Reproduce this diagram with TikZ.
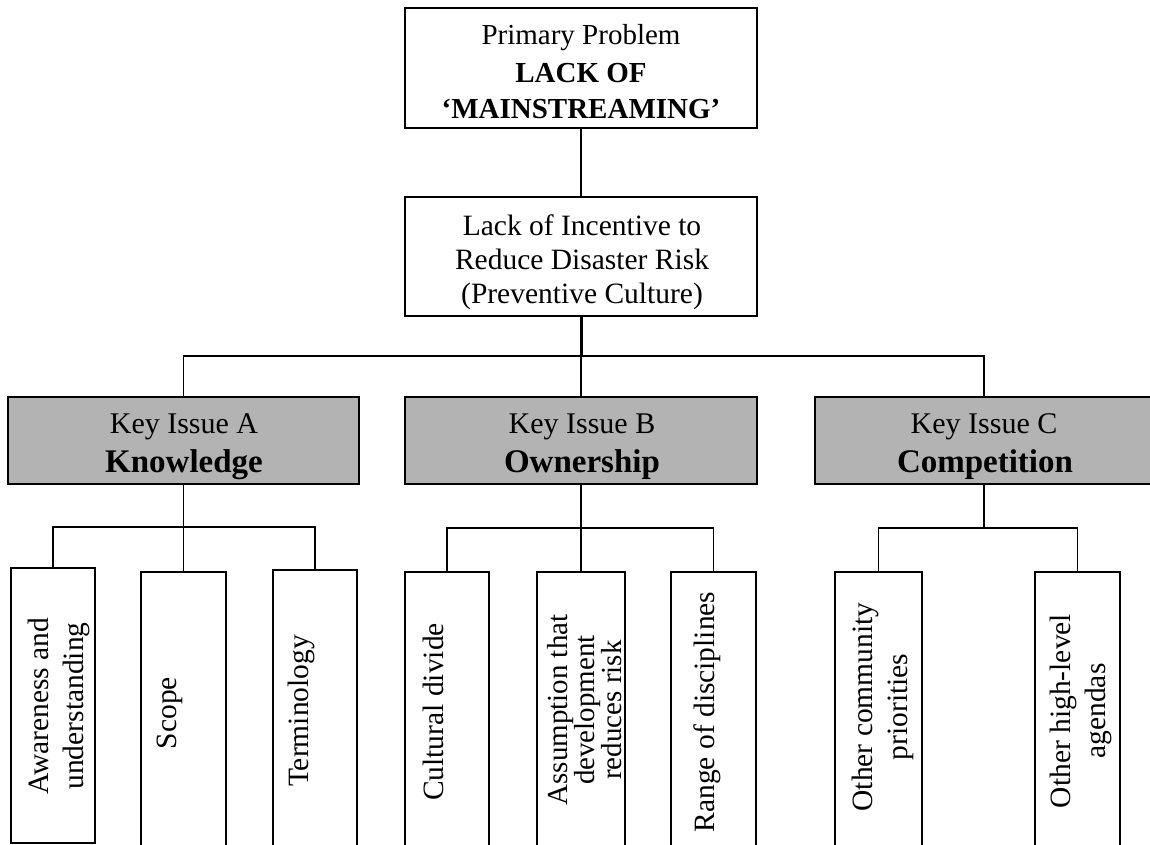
\documentclass[tikz,border=0pt]{standalone}
\usepackage{fontspec}
\setmainfont{Liberation Serif}
\definecolor{keygray}{RGB}{179,179,179}
\newcommand\fmain{\fontsize{29.5}{35}\selectfont}
\newcommand\ftop{\fontsize{29}{36}\selectfont}
\newcommand\fkey{\fontsize{30}{39}\selectfont}
\newcommand\fbig{\fontsize{33}{39}\selectfont\bfseries}
\newcommand\ftight{\fontsize{29}{25}\selectfont}
\begin{document}
\begin{tikzpicture}[x=1pt,y=-1pt,
  box/.style={draw, line width=1.8pt, inner sep=0pt, outer sep=0pt},
  keybox/.style={box, fill=keygray},
  line/.style={anchor=base, inner sep=0pt},
  leaftext/.style={rotate=90, anchor=north, inner sep=0pt, align=center, font=\fmain},
  conn/.style={line width=1.8pt},
  thick conn/.style={line width=3pt}]
\useasboundingbox (0,0) rectangle (1150,845);
\clip (0,0) rectangle (1150,845);

% top levels
\node[box, minimum width=352pt, minimum height=120pt] (top) at (581,68) {};
\node[line, font=\ftop] (top1) at (581,45) {Primary Problem};
\node[line, font=\ftop\bfseries] (top2) at (581,83) {LACK OF};
\node[line, font=\ftop\bfseries] (top3) at (581,118.5) {`MAINSTREAMING'};

\node[box, minimum width=352pt, minimum height=119pt] (mid) at (581,256.5) {};
\node[line, font=\fmain] (mid1) at (582,235.5) {Lack of Incentive to};
\node[line, font=\fmain] (mid2) at (582,269.5) {Reduce Disaster Risk};
\node[line, font=\fmain] (mid3) at (582,303) {(Preventive Culture)};
\coordinate (hub) at (581,356);

% key issues
\node[keybox, minimum width=351pt, minimum height=87pt] (kA) at (183.5,440.5) {};
\node[line, font=\fkey] (kA1) at (184,433) {Key Issue A};
\node[line, font=\fbig] (kA2) at (184,472) {Knowledge};
\node[keybox, minimum width=352pt, minimum height=87pt] (kB) at (581,440.5) {};
\node[line, font=\fkey] (kB1) at (582,433) {Key Issue B};
\node[line, font=\fbig] (kB2) at (582,472) {Ownership};
\node[keybox, minimum width=338pt, minimum height=87pt] (kC) at (984,440.5) {};
\node[line, font=\fkey] (kC1) at (984,433) {Key Issue C};
\node[line, font=\fbig] (kC2) at (985,472) {Competition};

% leaf boxes
\node[box, minimum width=84pt, minimum height=275pt] (l1) at (53,705.5) {};
\node[box, minimum width=85pt, minimum height=290pt] (l2) at (183.5,717) {};
\node[box, minimum width=84pt, minimum height=290pt] (l3) at (315,715) {};
\node[box, minimum width=84pt, minimum height=290pt] (l4) at (447,717) {};
\node[box, minimum width=88pt, minimum height=290pt] (l5) at (581,717) {};
\node[box, minimum width=85pt, minimum height=290pt] (l6) at (713.5,717) {};
\node[box, minimum width=87pt, minimum height=290pt] (l7) at (878.5,717) {};
\node[box, minimum width=85pt, minimum height=290pt] (l8) at (1077.5,717) {};

% leaf texts
\node[leaftext] (t1) at (28,706) {Awareness and\\ understanding};
\node[leaftext] (t2) at (157,713) {Scope};
\node[leaftext] (t3) at (288,711) {Terminology};
\node[leaftext] (t4) at (423,712) {Cultural divide};
\node[leaftext, font=\ftight] (t5) at (547,710) {Assumption that\\ development\\ reduces risk};
\node[leaftext] (t6) at (694,712) {Range of disciplines};
\node[leaftext] (t7) at (852,707) {Other community\\ priorities};
\node[leaftext] (t8) at (1050,711) {Other high-level\\ agendas};

% connectors
\draw[conn] (top.south) -- (mid.north);
\draw[thick conn] (mid.south) -- (hub);
\draw[conn] (kA.north) |- (hub) -| (kC.north);
\draw[conn] (hub) -- (kB.north);

\coordinate (jA) at (183.5,527);
\coordinate (jB) at (581,528);
\coordinate (jC) at (984,528);
\draw[conn] (kA.south) -- (jA);
\draw[conn] (l1.north) |- (jA) -| (l3.north);
\draw[conn] (jA) -- (l2.north);
\draw[conn] (kB.south) -- (jB);
\draw[conn] (l4.north) |- (jB) -| (l6.north);
\draw[conn] (jB) -- (l5.north);
\draw[conn] (kC.south) -- (jC);
\draw[conn] (l7.north) |- (jC) -| (l8.north);
\end{tikzpicture}
\end{document}
